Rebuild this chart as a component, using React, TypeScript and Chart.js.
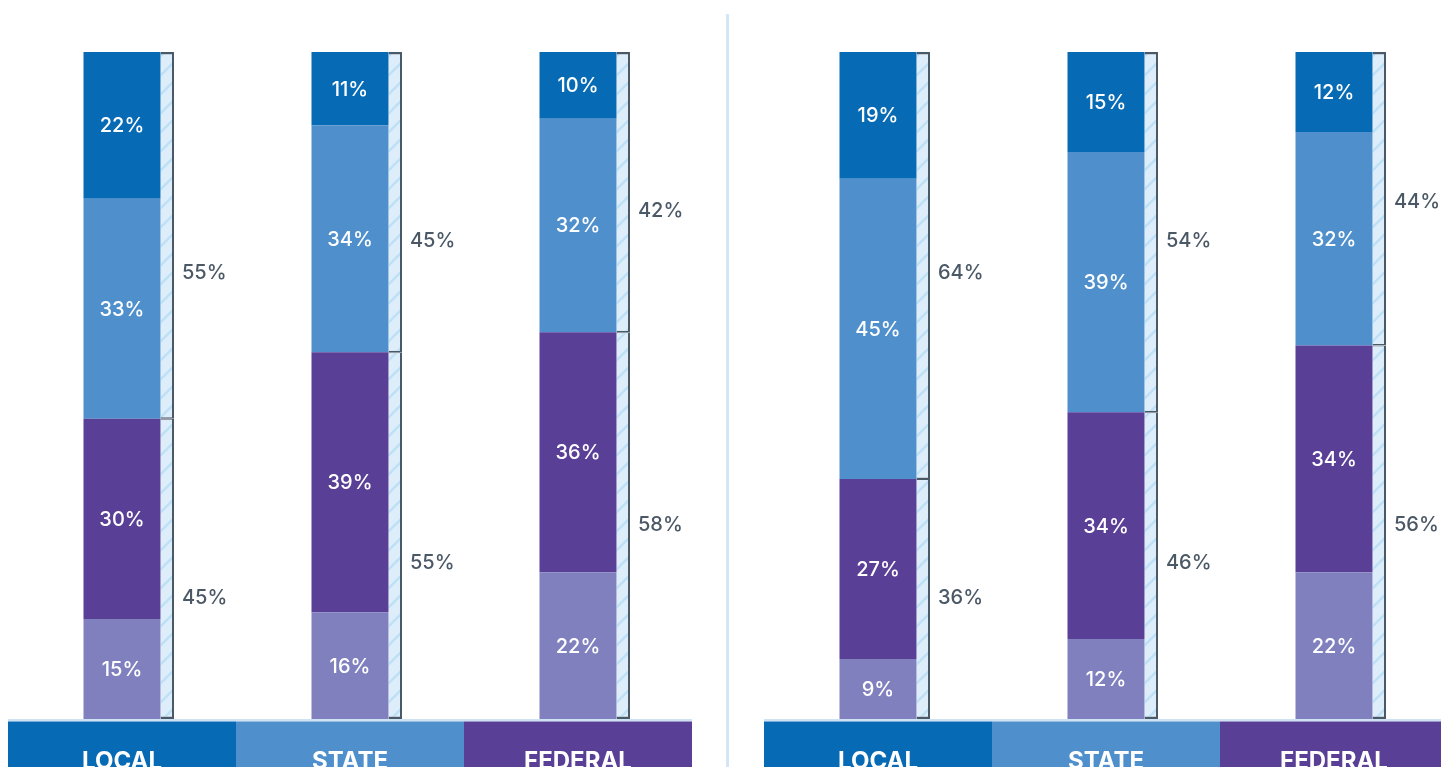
import React, { useEffect, useRef } from 'react';
import { Chart, registerables } from 'chart.js';

Chart.register(...registerables);

// ---------- data ----------
const categories = ['LOCAL', 'STATE', 'FEDERAL'];

// left panel (bottom -> top segments)
const leftBottom = [15, 16, 22];
const leftLower = [30, 39, 36];
const leftUpper = [33, 34, 32];
const leftTop = [22, 11, 10];
const leftLowerGroup = [45, 55, 58];
const leftUpperGroup = [55, 45, 42];
const leftUpperGroupLabelAt = [67.0, 71.8, 76.3];
const leftLowerGroupLabelAt = [18.3, 23.5, 29.2];

// right panel
const rightBottom = [9, 12, 22];
const rightLower = [27, 34, 34];
const rightUpper = [45, 39, 32];
const rightTop = [19, 15, 12];
const rightLowerGroup = [36, 46, 56];
const rightUpperGroup = [64, 54, 44];
const rightUpperGroupLabelAt = [67.0, 71.8, 77.7];
const rightLowerGroupLabelAt = [18.3, 23.5, 29.2];

// ---------- styles ----------
const segmentColors = ['#8080bf', '#5a3f97', '#4f8fcc', '#066ab5'];
const cellColors = ['#066ab5', '#4f8fcc', '#5a3f97'];
const bracketColor = '#4a5968';
const groupLabelColor = '#4b5866';
const FONT = 'Inter, "Open Sans", sans-serif';

function makeHatch(): CanvasPattern | string {
  const s = 19;
  const c = document.createElement('canvas');
  c.width = s;
  c.height = s;
  const g = c.getContext('2d');
  if (!g) return '#ddeefa';
  g.fillStyle = '#ddeefa';
  g.fillRect(0, 0, s, s);
  g.strokeStyle = '#bde0f7';
  g.lineWidth = 2.4;
  g.beginPath();
  g.moveTo(-2, s + 2);
  g.lineTo(s + 2, -2);
  g.moveTo(-2, 2);
  g.lineTo(2, -2);
  g.moveTo(s - 2, s + 2);
  g.lineTo(s + 2, s - 2);
  g.stroke();
  const p = g.createPattern(c, 'repeat');
  return p || '#ddeefa';
}

type PanelData = {
  bottom: number[];
  lower: number[];
  upper: number[];
  top: number[];
  lowerGroup: number[];
  upperGroup: number[];
  upperLabelAt: number[];
  lowerLabelAt: number[];
};

function buildChart(canvas: HTMLCanvasElement, d: PanelData) {
  const hatch = makeHatch();
  const mainOpts = {
    stack: 'main',
    categoryPercentage: 1,
    barPercentage: 77 / 76,
    borderWidth: 0,
  };
  const stripOpts = {
    stack: 'strip',
    categoryPercentage: 0.5954,
    barPercentage: 0.298,
    backgroundColor: hatch as any,
    borderColor: bracketColor,
    borderSkipped: false as const,
  };

  const labelPlugin = {
    id: 'panelLabels',
    afterDatasetsDraw(chart: any) {
      const { ctx } = chart;
      const y = chart.scales.y;
      ctx.save();
      // segment labels
      ctx.font = `500 20px ${FONT}`;
      ctx.fillStyle = '#ffffff';
      ctx.textAlign = 'center';
      ctx.textBaseline = 'middle';
      for (let di = 1; di <= 4; di++) {
        const meta = chart.getDatasetMeta(di);
        const ds = chart.data.datasets[di];
        meta.data.forEach((el: any, i: number) => {
          const v = ds.data[i];
          ctx.fillText(`${v}%`, el.x, (el.y + el.base) / 2 + 1);
        });
      }
      // group labels
      ctx.font = `500 20px ${FONT}`;
      ctx.fillStyle = groupLabelColor;
      ctx.textAlign = 'left';
      const groupSets = [
        { di: 5, at: d.lowerLabelAt },
        { di: 6, at: d.upperLabelAt },
      ];
      groupSets.forEach(({ di, at }) => {
        const meta = chart.getDatasetMeta(di);
        const ds = chart.data.datasets[di];
        meta.data.forEach((el: any, i: number) => {
          ctx.fillText(`${ds.data[i]}%`, el.x + el.width / 2 + 8, y.getPixelForValue(at[i]) + 1);
        });
      });
      ctx.restore();
    },
  };

  const headerPlugin = {
    id: 'headerCells',
    afterDraw(chart: any) {
      const { ctx, chartArea } = chart;
      const x = chart.scales.x;
      const half = (x.getPixelForValue(1) - x.getPixelForValue(0)) / 2;
      ctx.save();
      const first = x.getPixelForValue(0) - half;
      const last = x.getPixelForValue(categories.length - 1) + half;
      ctx.fillStyle = '#cfe2f3';
      ctx.fillRect(first, chartArea.bottom, last - first, 2.5);
      categories.forEach((c, i) => {
        const cx = x.getPixelForValue(i);
        ctx.fillStyle = cellColors[i];
        ctx.fillRect(cx - half, chartArea.bottom + 2.5, half * 2, chart.height);
        ctx.fillStyle = '#ffffff';
        ctx.font = `700 24px ${FONT}`;
        ctx.textAlign = 'center';
        ctx.textBaseline = 'alphabetic';
        ctx.fillText(c, cx, chartArea.bottom + 50);
      });
      ctx.restore();
    },
  };

  return new Chart(canvas, {
    type: 'bar',
    data: {
      labels: categories,
      datasets: [
        { label: 'pad', data: [0, 0, 0], stack: 'pad', backgroundColor: 'rgba(0,0,0,0)', borderWidth: 0, categoryPercentage: 1 } as any,
        { label: 'bottom', data: d.bottom, backgroundColor: segmentColors[0], ...mainOpts },
        { label: 'lower', data: d.lower, backgroundColor: segmentColors[1], ...mainOpts },
        { label: 'upper', data: d.upper, backgroundColor: segmentColors[2], ...mainOpts },
        { label: 'top', data: d.top, backgroundColor: segmentColors[3], ...mainOpts },
        { label: 'lowerGroup', data: d.lowerGroup, ...stripOpts, borderWidth: { top: 1, right: 2, bottom: 2.5, left: 0 } },
        { label: 'upperGroup', data: d.upperGroup, ...stripOpts, borderWidth: { top: 2.5, right: 2, bottom: 1.5, left: 0 } },
      ] as any,
    },
    options: {
      animation: false,
      responsive: true,
      maintainAspectRatio: false,
      events: [],
      layout: { padding: { top: 52, bottom: 48, left: 0, right: 0 } },
      plugins: { legend: { display: false }, tooltip: { enabled: false } },
      scales: {
        x: { display: false, stacked: true },
        y: { display: false, stacked: true, min: 0, max: 100 },
      },
    },
    plugins: [labelPlugin, headerPlugin],
  } as any);
}

function Panel({ data, left }: { data: PanelData; left: number }) {
  const ref = useRef<HTMLCanvasElement | null>(null);
  useEffect(() => {
    if (!ref.current) return;
    const chart = buildChart(ref.current, data);
    return () => chart.destroy();
  }, [data]);
  return (
    <div style={{ position: 'absolute', left, top: 0, width: 684, height: 767 }}>
      <canvas ref={ref} />
    </div>
  );
}

const leftData: PanelData = {
  bottom: leftBottom,
  lower: leftLower,
  upper: leftUpper,
  top: leftTop,
  lowerGroup: leftLowerGroup,
  upperGroup: leftUpperGroup,
  upperLabelAt: leftUpperGroupLabelAt,
  lowerLabelAt: leftLowerGroupLabelAt,
};
const rightData: PanelData = {
  bottom: rightBottom,
  lower: rightLower,
  upper: rightUpper,
  top: rightTop,
  lowerGroup: rightLowerGroup,
  upperGroup: rightUpperGroup,
  upperLabelAt: rightUpperGroupLabelAt,
  lowerLabelAt: rightLowerGroupLabelAt,
};

export default function App() {
  return (
    <div
      style={{
        position: 'fixed',
        left: 0,
        top: 0,
        width: 1441,
        height: 767,
        overflow: 'hidden',
        background: '#ffffff',
      }}
    >
      <Panel data={leftData} left={8} />
      <div style={{ position: 'absolute', left: 726, top: 14, width: 2.5, height: 760, background: '#d4e5f6' }} />
      <Panel data={rightData} left={764} />
    </div>
  );
}
